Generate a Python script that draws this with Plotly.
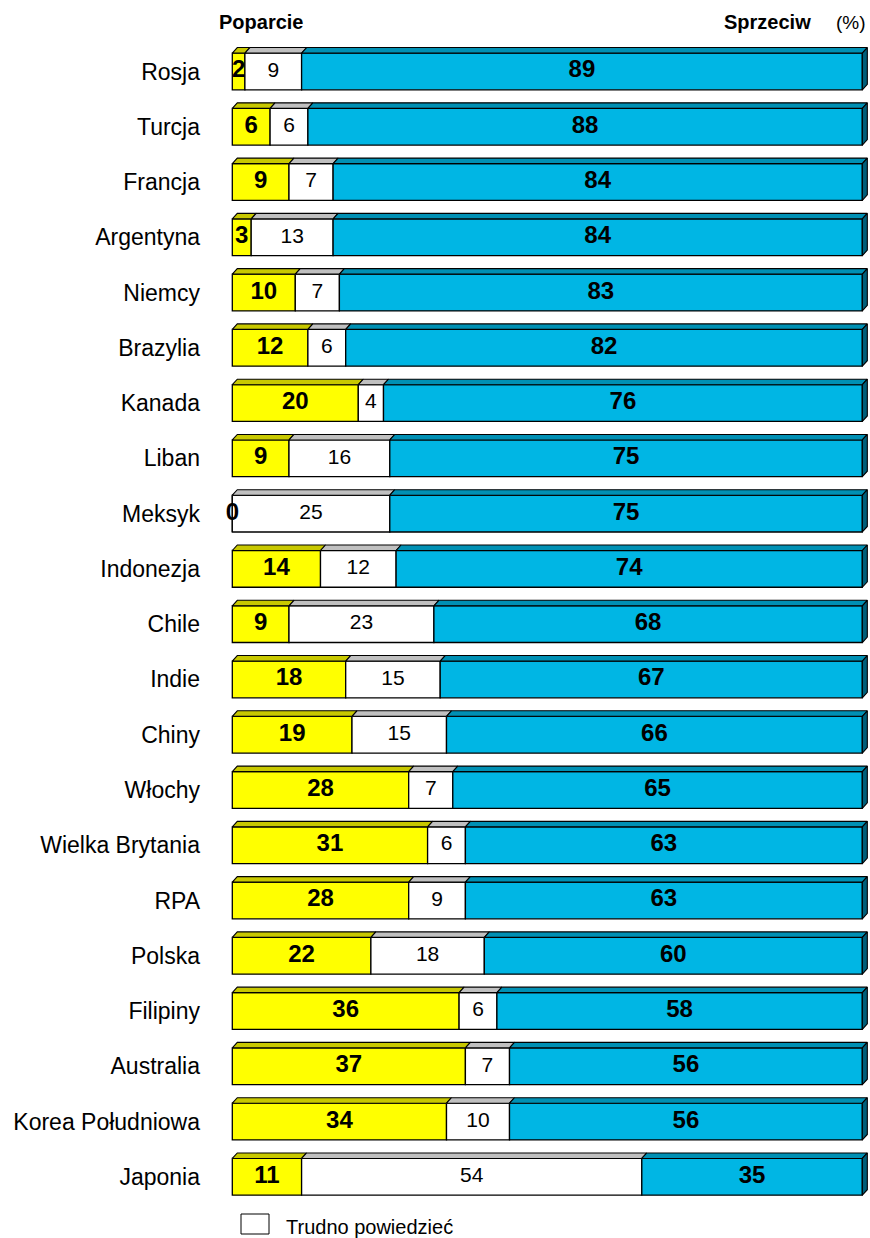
import plotly.graph_objects as go

countries = ["Rosja", "Turcja", "Francja", "Argentyna", "Niemcy", "Brazylia", "Kanada",
             "Liban", "Meksyk", "Indonezja", "Chile", "Indie", "Chiny", "Włochy",
             "Wielka Brytania", "RPA", "Polska", "Filipiny", "Australia",
             "Korea Południowa", "Japonia"]
support = [2, 6, 9, 3, 10, 12, 20, 9, 0, 14, 9, 18, 19, 28, 31, 28, 22, 36, 37, 34, 11]
unsure = [9, 6, 7, 13, 7, 6, 4, 16, 25, 12, 23, 15, 15, 7, 6, 9, 18, 6, 7, 10, 54]
oppose = [89, 88, 84, 84, 83, 82, 76, 75, 75, 74, 68, 67, 66, 65, 63, 63, 60, 58, 56, 56, 35]

W, H = 870, 1238
ML, MR, MT, MB = 230, 0, 30, 28
XR = [-0.365, 101.22]
YR = [20.6, -0.75]
PW, PH = W - ML - MR, H - MT - MB
pxx = PW / (XR[1] - XR[0])
pxy = PH / (YR[0] - YR[1])
DX = 5.0 / pxx
DY = 5.5 / pxy
BW = 0.665
FONT = "Liberation Sans, Arial"


def px2paper(px, py):
    return (px - ML) / PW, 1 - (py - MT) / PH


ys = list(range(len(countries)))
fig = go.Figure()

segs = [("Poparcie", support, "#FFFF00", "#C8C800"),
        ("Trudno powiedzieć", unsure, "#FFFFFF", "#C0C0C0"),
        ("Sprzeciw", oppose, "#00B6E4", "#0090B4")]

starts = [[0] * len(ys)]
for _, v, _, _ in segs[:-1]:
    starts.append([a + b for a, b in zip(starts[-1], v)])

for (name, v, c, _), st in zip(segs, starts):
    fig.add_trace(go.Bar(y=ys, x=v, base=st, orientation="h", width=BW,
                         marker=dict(color=c, line=dict(color="black", width=1.3)),
                         name=name, showlegend=False, hoverinfo="x+name"))

# top faces
for (name, v, c, topc), st in zip(segs, starts):
    px_, py_ = [], []
    for y, s, val in zip(ys, st, v):
        if val <= 0:
            continue
        yt = y - BW / 2
        px_ += [s, s + val, s + val + DX, s + DX, s, None]
        py_ += [yt, yt, yt - DY, yt - DY, yt, None]
    fig.add_trace(go.Scatter(x=px_, y=py_, mode="lines", fill="toself", fillcolor=topc,
                             line=dict(color="black", width=1.1), showlegend=False,
                             hoverinfo="skip"))

# right faces on last segment
px_, py_ = [], []
for y, s, val in zip(ys, starts[2], oppose):
    e = s + val
    yt, yb = y - BW / 2, y + BW / 2
    px_ += [e, e + DX, e + DX, e, e, None]
    py_ += [yt, yt - DY, yb - DY, yb, yt, None]
fig.add_trace(go.Scatter(x=px_, y=py_, mode="lines", fill="toself", fillcolor="#005F7A",
                         line=dict(color="black", width=1.1), showlegend=False,
                         hoverinfo="skip"))

# labels
fonts = [dict(family=FONT, size=24, color="black"),
         dict(family=FONT, size=21, color="black"),
         dict(family=FONT, size=24, color="black")]
for i, ((name, v, c, _), st) in enumerate(zip(segs, starts)):
    xs = [s + val / 2 for s, val in zip(st, v)]
    txt = [f"<b>{val}</b>" if i != 1 else str(val) for val in v]
    fig.add_trace(go.Scatter(x=xs, y=ys, mode="text", text=txt, textfont=fonts[i],
                             textposition="middle center", cliponaxis=False,
                             showlegend=False, hoverinfo="skip"))

ax_p, ay_p = px2paper(217, 22)
sx_p, _ = px2paper(813, 22)
pc_p, _ = px2paper(834, 22)
lx0, ly0 = px2paper(241, 1234)
lx1, ly1 = px2paper(269, 1214)
tx_p, ty_p = px2paper(284, 1227)

fig.update_layout(
    width=W, height=H,
    margin=dict(l=ML, r=MR, t=MT, b=MB),
    barmode="overlay",
    plot_bgcolor="white", paper_bgcolor="white",
    xaxis=dict(range=XR, visible=False, fixedrange=True),
    yaxis=dict(range=YR, tickvals=ys, ticktext=countries, showgrid=False,
               zeroline=False, showline=False, ticks="", ticklabelstandoff=29,
               fixedrange=True,
               tickfont=dict(family=FONT, size=23, color="black")),
    font=dict(family=FONT),
    annotations=[
        dict(text="<b>Poparcie</b>", xref="paper", yref="paper", x=ax_p, y=ay_p,
             xanchor="left", yanchor="middle", showarrow=False,
             font=dict(size=20, color="black")),
        dict(text="<b>Sprzeciw</b>", xref="paper", yref="paper", x=sx_p, y=ay_p,
             xanchor="right", yanchor="middle", showarrow=False,
             font=dict(size=20, color="black")),
        dict(text="(%)", xref="paper", yref="paper", x=pc_p, y=ay_p,
             xanchor="left", yanchor="middle", showarrow=False,
             font=dict(size=19, color="black")),
        dict(text="Trudno powiedzieć", xref="paper", yref="paper", x=tx_p, y=ty_p,
             xanchor="left", yanchor="middle", showarrow=False,
             font=dict(size=20, color="black")),
    ],
    shapes=[
        dict(type="rect", xref="paper", yref="paper", x0=lx0, x1=lx1, y0=ly0, y1=ly1,
             line=dict(color="black", width=1), fillcolor="white"),
    ],
)

fig.write_html("out.html",
               config={"displayModeBar": False},
               post_script="document.body.style.margin='0';"
                           "document.documentElement.style.overflow='hidden';"
                           "document.body.style.overflow='hidden';")
